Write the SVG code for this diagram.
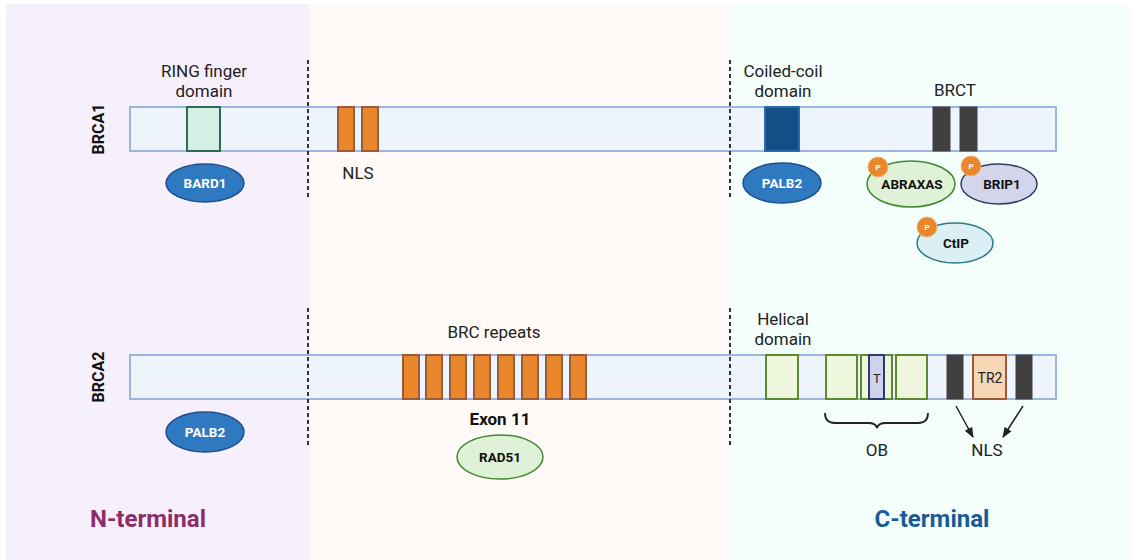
<svg xmlns="http://www.w3.org/2000/svg" width="1131" height="560" viewBox="0 0 1131 560">
<defs>
<style>
.lbl{font-family:Roboto,"Liberation Sans",sans-serif;font-size:17px;fill:#222;text-anchor:middle}
.bold{font-family:Roboto,"Liberation Sans",sans-serif;font-weight:bold;text-anchor:middle}
.bar{fill:#edf4fc;stroke:#9db4de;stroke-width:2}
.nls{fill:#e8872c;stroke:#9c5a3c;stroke-width:2}
.brct{fill:#404040;stroke:#404040;stroke-width:1}
.hel{fill:#eef7dc;stroke:#5b8a2f;stroke-width:2}
.dash{stroke:#333;stroke-width:2;stroke-dasharray:4 3;fill:none}
.blue{fill:#2e79c0;stroke:#1f4e8c;stroke-width:1.5}
.wt{font-family:Roboto,"Liberation Sans",sans-serif;font-weight:bold;font-size:13.5px;fill:#fff;text-anchor:middle}
.bt{font-family:Roboto,"Liberation Sans",sans-serif;font-weight:bold;font-size:13.5px;fill:#111;text-anchor:middle}
.pc{fill:#e8872c;stroke:#f3b27a;stroke-width:1}
.pt{font-family:Roboto,"Liberation Sans",sans-serif;font-weight:bold;font-size:8px;fill:#fff;text-anchor:middle}
</style>
<marker id="arr" viewBox="0 0 10 10" refX="9" refY="5" markerWidth="7" markerHeight="7" orient="auto-start-reverse">
<path d="M0,1 L10,5 L0,9 z" fill="#222"/>
</marker>
</defs>
<rect width="1131" height="560" fill="#fff"/>
<g id="panels">
<rect x="6" y="4" width="304" height="556" fill="#f6f0fd"/>
<rect x="310" y="4" width="419" height="556" fill="#fffaf7"/>
<rect x="729" y="4" width="401" height="556" fill="#f4fffb"/>
</g>
<g id="brca1">
<rect class="bar" x="130" y="107" width="926" height="44"/>
<text class="bold" font-size="16" fill="#111" transform="translate(104,129) rotate(-90)">BRCA1</text>
</g>
<g id="ring">
<rect x="187" y="107" width="33" height="44" fill="#d5efe6" stroke="#2e6b56" stroke-width="2"/>
<text class="lbl" x="204" y="77">RING finger</text>
<text class="lbl" x="204" y="97">domain</text>
</g>
<g id="nls1">
<rect class="nls" x="338" y="107" width="16" height="44"/>
<rect class="nls" x="362" y="107" width="16" height="44"/>
<text class="lbl" x="358" y="179">NLS</text>
</g>
<g id="coiled">
<rect x="765" y="107" width="34" height="44" fill="#134f86" stroke="#2a6aa8" stroke-width="2"/>
<text class="lbl" x="783" y="77">Coiled-coil</text>
<text class="lbl" x="783" y="97">domain</text>
</g>
<g id="brct">
<rect class="brct" x="933" y="107" width="17" height="44"/>
<rect class="brct" x="960" y="107" width="17" height="44"/>
<text class="lbl" x="955" y="96">BRCT</text>
</g>
<g id="bard1">
<ellipse class="blue" cx="205" cy="183" rx="39" ry="19"/>
<text class="wt" x="205" y="188">BARD1</text>
</g>
<g id="palb2-1">
<ellipse class="blue" cx="782" cy="183" rx="39" ry="20"/>
<text class="wt" x="782" y="188">PALB2</text>
</g>
<g id="abraxas">
<ellipse cx="911" cy="184" rx="44" ry="23" fill="#dff2d8" stroke="#3f8a2f" stroke-width="1.5"/>
<text class="bt" x="912" y="189">ABRAXAS</text>
<circle class="pc" cx="878" cy="167" r="10"/>
<text class="pt" x="878" y="170">P</text>
</g>
<g id="brip1">
<ellipse cx="999" cy="184" rx="38" ry="20" fill="#d3d6ea" stroke="#2f3a6a" stroke-width="1.5"/>
<text class="bt" x="1002" y="189">BRIP1</text>
<circle class="pc" cx="971" cy="166" r="10"/>
<text class="pt" x="971" y="169">P</text>
</g>
<g id="ctip">
<ellipse cx="955" cy="243" rx="38" ry="20" fill="#daf0f5" stroke="#2d7a88" stroke-width="1.5"/>
<text class="bt" x="956" y="248">CtIP</text>
<circle class="pc" cx="927" cy="227" r="10"/>
<text class="pt" x="927" y="230">P</text>
</g>
<g id="brca2">
<rect class="bar" x="130" y="355" width="926" height="44"/>
<text class="bold" font-size="16" fill="#111" transform="translate(104,377) rotate(-90)">BRCA2</text>
</g>
<g id="brc">
<rect class="nls" x="403" y="355" width="16" height="44"/>
<rect class="nls" x="426" y="355" width="16" height="44"/>
<rect class="nls" x="450" y="355" width="16" height="44"/>
<rect class="nls" x="474" y="355" width="16" height="44"/>
<rect class="nls" x="498" y="355" width="16" height="44"/>
<rect class="nls" x="522" y="355" width="16" height="44"/>
<rect class="nls" x="546" y="355" width="16" height="44"/>
<rect class="nls" x="570" y="355" width="16" height="44"/>
<text class="lbl" x="494" y="338">BRC repeats</text>
<text class="bold" font-size="17" fill="#111" x="500" y="425">Exon 11</text>
</g>
<g id="rad51">
<ellipse cx="500" cy="457" rx="43" ry="22" fill="#dff2d8" stroke="#3f8a2f" stroke-width="1.5"/>
<text class="bt" x="500" y="462">RAD51</text>
</g>
<g id="palb2-2">
<ellipse class="blue" cx="205" cy="432" rx="39" ry="20"/>
<text class="wt" x="205" y="437">PALB2</text>
</g>
<g id="helical">
<rect class="hel" x="766" y="355" width="32" height="44"/>
<text class="lbl" x="783" y="325">Helical</text>
<text class="lbl" x="783" y="345">domain</text>
</g>
<g id="ob">
<rect class="hel" x="826" y="355" width="31" height="44"/>
<rect class="hel" x="861" y="355" width="31" height="44"/>
<rect x="869" y="355" width="15" height="44" fill="#cdd3ec" stroke="#2f3a6a" stroke-width="2"/>
<text x="877" y="383" font-family="Roboto,'Liberation Sans',sans-serif" font-size="13" fill="#222" text-anchor="middle">T</text>
<rect class="hel" x="896" y="355" width="31" height="44"/>
<text class="lbl" x="877" y="456">OB</text>
</g>
<g id="nls2">
<rect class="brct" x="947" y="355" width="16" height="44"/>
<rect x="973" y="355" width="33" height="44" fill="#f5d7b5" stroke="#a0583a" stroke-width="2"/>
<text x="990" y="383" font-family="Roboto,'Liberation Sans',sans-serif" font-size="14" fill="#222" text-anchor="middle">TR2</text>
<rect class="brct" x="1016" y="355" width="16" height="44"/>
<text class="lbl" x="987" y="456">NLS</text>
</g>
<g id="connectors">
<line class="dash" x1="308" y1="60" x2="308" y2="197"/>
<line class="dash" x1="730" y1="60" x2="730" y2="197"/>
<line class="dash" x1="308" y1="308" x2="308" y2="445"/>
<line class="dash" x1="730" y1="308" x2="730" y2="445"/>
<path d="M825,413 Q825,423 835,423 L868,423 Q876,423 877,428 Q878,423 886,423 L918,423 Q928,423 928,413" fill="none" stroke="#222" stroke-width="1.8"/>
<line x1="956" y1="406" x2="973" y2="437" stroke="#222" stroke-width="1.5" marker-end="url(#arr)"/>
<line x1="1023" y1="406" x2="1003" y2="437" stroke="#222" stroke-width="1.5" marker-end="url(#arr)"/>
</g>
<g id="terminals">
<text class="bold" font-size="24" fill="#8b2d66" x="148" y="527">N-terminal</text>
<text class="bold" font-size="24" fill="#1a5a96" x="932" y="527">C-terminal</text>
</g>
</svg>
